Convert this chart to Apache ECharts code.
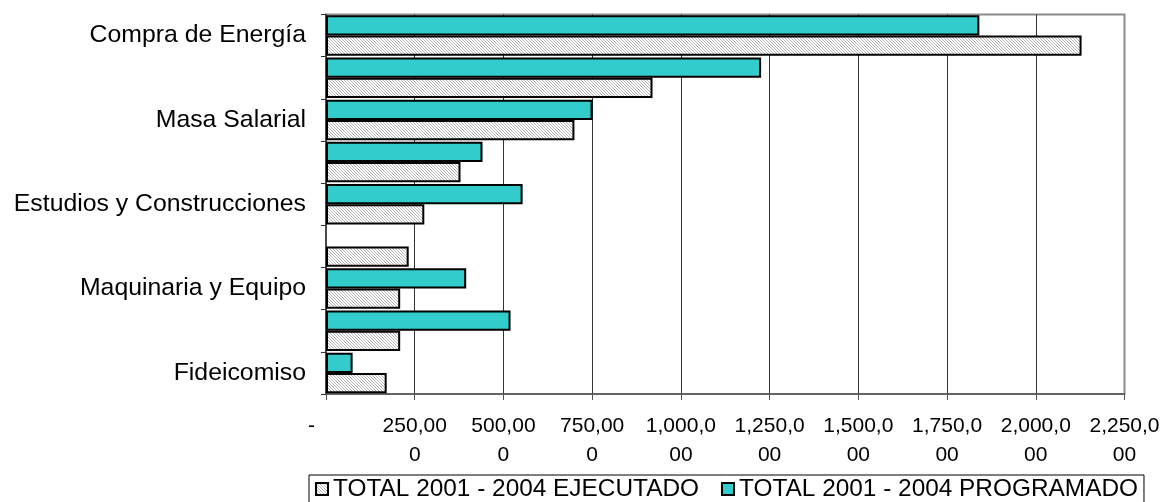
<!DOCTYPE html>
<html>
<head>
<meta charset="utf-8">
<script src="https://cdn.jsdelivr.net/npm/echarts@6/dist/echarts.min.js"></script>
<style>
  html, body { margin: 0; padding: 0; background: #fff; }
  #chart { width: 1167px; height: 502px; }
</style>
</head>
<body>
<div id="chart"></div>
<script>
// Budget items (labels shown on every other row, as in the source sheet)
const categories = [
  'Compra de Energía', '', 'Masa Salarial', '', 'Estudios y Construcciones',
  '', 'Maquinaria y Equipo', '', 'Fideicomiso'
];
const seriesNames = ['TOTAL 2001 - 2004 EJECUTADO', 'TOTAL 2001 - 2004 PROGRAMADO'];
const programado = [1841000, 1226000, 751000, 441000, 554000, 0, 395000, 520000, 75000];
const ejecutado  = [2129000, 920000, 700000, 379000, 277000, 233000, 209000, 209000, 171000];
const xTicks = [0, 250000, 500000, 750000, 1000000, 1250000, 1500000, 1750000, 2000000, 2250000];

// Fine diagonal hatch used for the "ejecutado" bars
function hatchPattern() {
  const c = document.createElement('canvas');
  c.width = 3; c.height = 3;
  const g = c.getContext('2d');
  g.fillStyle = '#ffffff';
  g.fillRect(0, 0, 3, 3);
  g.fillStyle = '#b4b4b4';
  for (let i = 0; i < 3; i++) g.fillRect(i, i, 1, 1);
  return c;
}
const hatch = { image: hatchPattern(), repeat: 'repeat' };

// Excel-style label: 250,000 wrapped into "250,00" / "0"
function tickLabel(v) {
  if (v === 0) return '-\u00a0\u00a0\u00a0\u00a0\u00a0';
  const s = v.toLocaleString('en-US');
  const cut = s.length <= 7 ? 6 : 7;
  return s.slice(0, cut) + '\n' + s.slice(cut);
}

function barData(values) {
  return values.map(v => v === 0 ? { value: 0, itemStyle: { borderWidth: 0 } } : v);
}

const font = "'Liberation Sans', Arial, sans-serif";
const chart = echarts.init(document.getElementById('chart'), null, { renderer: 'canvas' });
chart.setOption({
  animation: false,
  backgroundColor: '#ffffff',
  textStyle: { fontFamily: font, color: '#000' },
  grid: {
    left: 326, right: 42.5, top: 14.5, bottom: 108,
    show: true, borderColor: '#8c8c8c', borderWidth: 2, backgroundColor: 'transparent'
  },
  legend: {
    data: seriesNames,
    left: 309, top: 475,
    orient: 'horizontal',
    icon: 'rect',
    itemWidth: 12, itemHeight: 12, itemGap: 22,
    padding: [2, 6],
    borderColor: '#000', borderWidth: 1,
    textStyle: { fontFamily: font, fontSize: 24.4, color: '#000' }
  },
  xAxis: {
    type: 'value',
    min: xTicks[0], max: xTicks[xTicks.length - 1], interval: xTicks[1] - xTicks[0],
    axisLine: { show: true, lineStyle: { color: '#555', width: 1.5 } },
    axisTick: { show: true, length: 6, lineStyle: { color: '#555' } },
    splitLine: { show: true, showMinLine: false, showMaxLine: false, lineStyle: { color: '#333', width: 1 } },
    axisLabel: {
      fontFamily: font, fontSize: 21, color: '#000', lineHeight: 29, margin: 18,
      formatter: tickLabel
    }
  },
  yAxis: {
    type: 'category',
    inverse: true,
    data: categories,
    axisLine: { show: true, lineStyle: { color: '#333', width: 1.5 } },
    axisTick: { show: true, length: 5, interval: 0, lineStyle: { color: '#333' } },
    axisLabel: { interval: 0, fontFamily: font, fontSize: 24.8, color: '#000', margin: 20 },
    splitLine: { show: false }
  },
  series: [
    {
      name: seriesNames[1], type: 'bar', data: barData(programado),
      barGap: '0%', barCategoryGap: '4%',
      itemStyle: { color: '#33CCCC', borderColor: '#000', borderWidth: 2 }
    },
    {
      name: seriesNames[0], type: 'bar', data: barData(ejecutado),
      barGap: '0%', barCategoryGap: '4%',
      itemStyle: { color: hatch, borderColor: '#000', borderWidth: 2 }
    }
  ]
});
</script>
</body>
</html>
